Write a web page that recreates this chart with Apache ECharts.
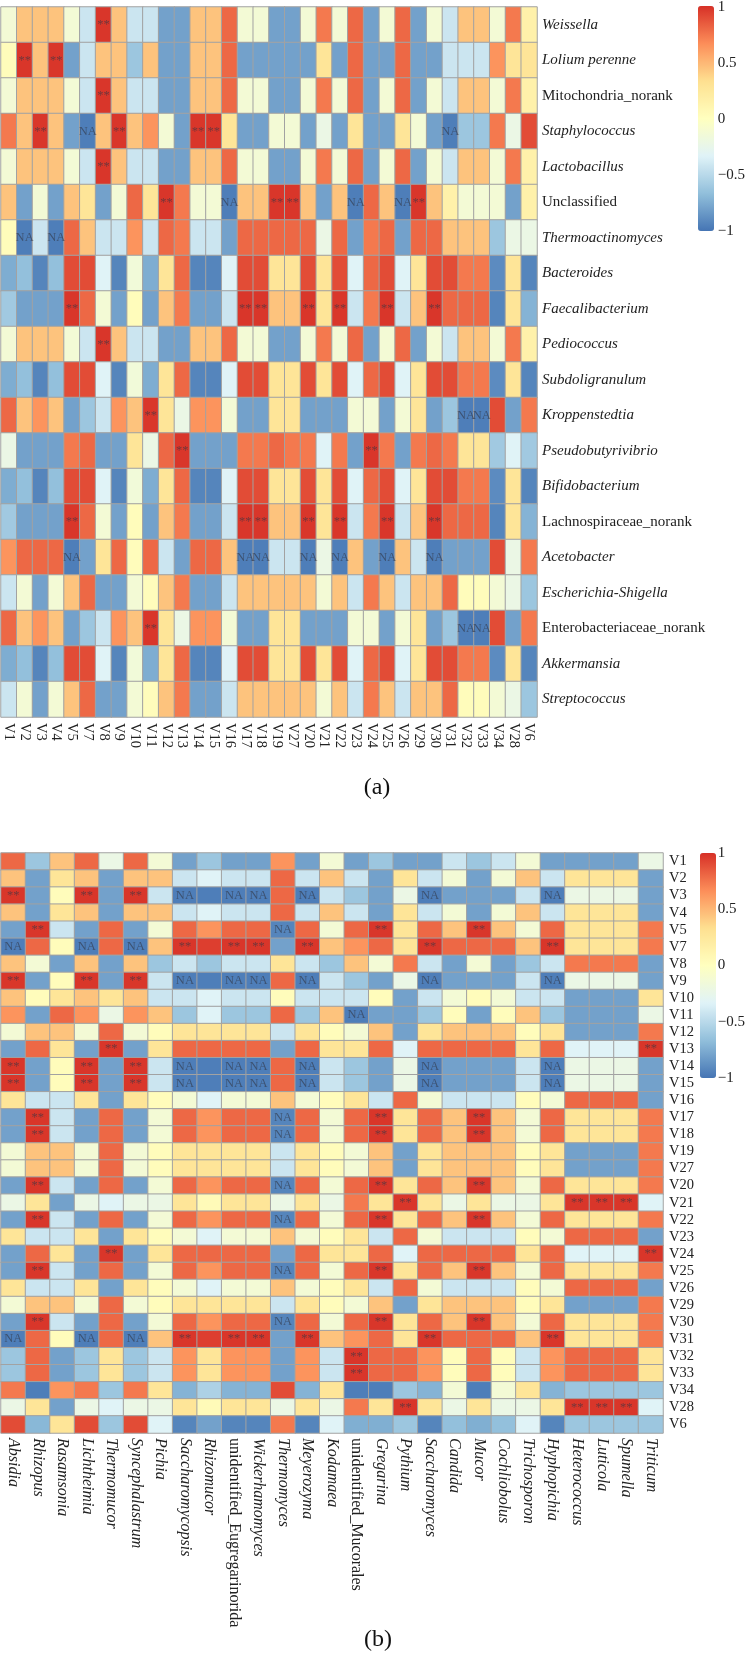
<!DOCTYPE html>
<html>
<head>
<meta charset="utf-8">
<style>html,body{margin:0;padding:0;background:#fff}#chart{width:748px;height:1654px}</style>
<script src="https://cdn.jsdelivr.net/npm/echarts@6/dist/echarts.min.js"></script>
</head>
<body>
<div id="chart"></div>
<script>
// ---------- Panel (a) ----------
const genera = ["Weissella","Lolium perenne","Mitochondria_norank","Staphylococcus","Lactobacillus","Unclassified","Thermoactinomyces","Bacteroides","Faecalibacterium","Pediococcus","Subdoligranulum","Kroppenstedtia","Pseudobutyrivibrio","Bifidobacterium","Lachnospiraceae_norank","Acetobacter","Escherichia-Shigella","Enterobacteriaceae_norank","Akkermansia","Streptococcus"];
const uprightGenera = ["Mitochondria_norank","Unclassified","Lachnospiraceae_norank","Enterobacteriaceae_norank"];
const samplesA = ["V1","V2","V3","V4","V5","V7","V8","V9","V10","V11","V12","V13","V14","V15","V16","V17","V18","V19","V27","V20","V21","V22","V23","V24","V25","V26","V29","V30","V31","V32","V33","V34","V28","V6"];

const weissella = [-.13,.45,.45,.45,-.13,-.42,.98,.45,-.42,-.42,-.8,-.8,.45,.45,.8,-.13,-.13,-.8,-.8,-.13,.74,-.13,.8,-.8,-.13,.8,-.8,-.13,-.42,.45,.45,-.13,.74,.15];
const lolium = [.03,.98,.45,.98,-.8,-.42,.45,.45,-.62,.45,-.8,-.8,.45,.45,.8,-.8,-.8,-.8,-.8,-.8,.28,-.8,.8,-.8,-.8,.8,-.8,-.8,-.42,-.42,-.42,.64,.28,.28];
const staphylococcus = [.74,.45,.98,.45,-.8,-.96,.45,.98,.45,.64,-.13,-.8,.98,.98,.28,-.8,-.8,-.13,-.13,-.8,-.22,-.8,.28,-.8,-.8,.28,-.13,-.8,-.96,-.62,-.62,.74,-.22,.9];
const unclassified = [.45,-.8,-.13,-.8,.45,.28,-.8,-.13,.8,.28,.98,.74,-.13,-.13,-.96,.45,.45,.98,.98,.45,-.8,.45,-.96,.8,.45,-.96,.98,.45,.15,-.13,-.13,-.13,-.8,.15];
const thermoactinomyces = [.03,-.96,-.42,-.96,.8,.45,-.42,-.42,.64,-.42,.8,.74,-.42,-.42,-.8,.8,.8,.8,.8,.8,-.22,.8,-.8,.74,.8,-.8,.8,.8,.45,.45,.45,-.62,-.22,-.22];
const bacteroides = [-.75,-.66,-.93,-.66,.9,.9,-.33,-.93,-.15,-.75,.28,.8,-.93,-.93,-.33,.9,.9,.28,.28,.9,.28,.9,-.33,.8,.9,-.33,.28,.9,.9,.74,.74,-.9,.28,-.93];
const faecalibacterium = [-.6,-.8,-.8,-.8,.98,.8,-.13,-.8,.03,-.8,.45,.74,-.8,-.8,-.42,.98,.98,.45,.45,.98,.28,.98,-.42,.74,.98,-.42,.45,.98,.8,.8,.8,-.93,.28,-.72];
const kroppenstedtia = [.8,.45,.64,.45,-.8,-.62,-.42,.64,.45,.98,.28,-.22,.64,.64,-.13,-.8,-.8,.28,.28,-.8,-.8,-.8,-.13,-.13,-.8,-.13,.28,-.8,-.62,-.96,-.96,.9,-.8,.74];
const pseudobutyrivibrio = [-.22,-.8,-.8,-.8,.74,.8,-.8,-.8,.28,-.22,.8,.98,-.8,-.8,-.8,.74,.74,.8,.74,.74,-.33,.74,-.8,.98,.74,-.8,.74,.8,.74,.28,.28,-.6,-.33,-.6];
const acetobacter = [.64,.8,.8,.8,-.96,-.8,.28,.8,.03,.8,-.42,-.8,.8,.8,.45,-.96,-.96,-.42,-.42,-.96,-.22,-.96,.45,-.8,-.96,.45,-.42,-.96,-.8,-.8,-.8,.9,-.22,.74];
const escherichia = [-.42,-.13,-.8,-.13,.45,.8,-.8,-.8,-.13,.03,.45,.74,-.8,-.8,-.42,.45,.45,.45,.45,.45,-.13,.45,-.42,.74,.45,-.42,.45,.45,.8,.03,.03,-.13,-.22,-.62];

const valuesA = [weissella,lolium,weissella,staphylococcus,weissella,unclassified,thermoactinomyces,bacteroides,faecalibacterium,weissella,bacteroides,kroppenstedtia,pseudobutyrivibrio,bacteroides,faecalibacterium,acetobacter,escherichia,kroppenstedtia,bacteroides,escherichia];
// 1-based column numbers per row
const starsA = [[7],[2,4],[7],[3,8,13,14],[7],[11,18,19,27],[],[],[5,16,17,20,22,25,28],[7],[],[10],[12,24],[],[5,16,17,20,22,25,28],[],[],[10],[],[]];
const naA = [[],[],[],[6,29],[],[15,23,26],[2,4],[],[],[],[],[30,31],[],[],[],[5,16,17,20,22,25,28],[],[30,31],[],[]];

// ---------- Panel (b) ----------
const fungi = ["Absidia","Rhizopus","Rasamsonia","Lichtheimia","Thermomucor","Syncephalastrum","Pichia","Saccharomycopsis","Rhizomucor","unidentified_Eugregarinorida","Wickerhamomyces","Thermomyces","Meyerozyma","Kodamaea","unidentified_Mucorales","Gregarina","Pythium","Saccharomyces","Candida","Mucor","Cochliobolus","Trichosporon","Hyphopichia","Heterococcus","Luticola","Spumella","Triticum"];
const uprightFungi = ["unidentified_Eugregarinorida","unidentified_Mucorales"];
const samplesB = ["V1","V2","V3","V4","V5","V7","V8","V9","V10","V11","V12","V13","V14","V15","V16","V17","V18","V19","V27","V20","V21","V22","V23","V24","V25","V26","V29","V30","V31","V32","V33","V34","V28","V6"];

const v1 = [.8,-.62,.45,.8,-.22,.8,-.13,-.8,-.62,-.8,-.8,.64,-.8,-.13,-.8,-.62,-.8,-.8,-.42,-.62,-.42,-.13,-.8,-.8,-.8,-.8,-.22];
const v2 = [.45,-.8,.28,.45,-.8,.45,.45,-.42,-.33,-.42,-.42,.8,-.42,.45,-.42,-.8,.28,-.42,-.13,-.8,-.13,.45,-.42,.28,.28,.28,-.8];
const v3 = [.98,-.8,.03,.98,-.8,.98,-.42,-.96,-.96,-.96,-.96,.8,-.96,-.42,-.62,-.8,-.22,-.96,-.8,-.8,-.8,-.42,-.96,-.22,-.22,-.22,-.8];
const v5 = [-.8,.98,-.42,-.8,.8,-.8,-.13,.8,.64,.8,.8,-.93,.8,-.13,.8,.98,.28,.8,.45,.98,.45,-.13,.8,.28,.28,.28,.74];
const v7 = [-.96,.8,.03,-.96,.8,-.96,.45,.98,.95,.98,.98,-.8,.98,.45,.64,.8,.28,.98,.8,.8,.8,.45,.98,.28,.28,.28,.74];
const v8 = [.45,-.13,-.8,.45,-.8,.45,-.62,-.42,-.62,-.42,-.42,.28,-.42,-.62,.45,-.13,.74,-.42,-.8,-.13,-.8,-.62,-.42,.74,.74,.74,-.8];
const v10 = [.45,.03,.28,.45,.28,.45,-.42,-.42,-.33,-.42,-.42,.03,-.42,-.42,-.42,.03,-.8,-.42,-.13,.03,-.13,-.42,-.42,-.8,-.8,-.8,.28];
const v11 = [.64,-.8,.8,.64,-.22,.64,.45,-.62,-.33,-.62,-.62,.8,-.62,.45,-.96,-.8,-.8,-.62,.03,-.8,.03,.45,-.62,-.8,-.8,-.8,-.22];
const v12 = [-.13,.45,.45,-.13,.8,-.13,.03,.28,.28,.28,.28,-.42,.28,.03,-.13,.45,-.8,.28,.45,.45,.45,.03,.28,-.8,-.8,-.8,.74];
const v13 = [-.8,.8,.28,-.8,.98,-.8,.28,.8,.8,.8,.8,-.8,.8,.28,.28,.8,-.33,.8,.8,.8,.8,.28,.8,-.33,-.33,-.33,.98];
const v16 = [.28,-.42,-.42,.28,-.8,.28,.03,-.13,-.33,-.13,-.13,.45,-.13,.03,.28,-.42,.8,-.13,-.42,-.42,-.42,.03,-.13,.8,.8,.8,-.8];
const v21 = [-.22,.28,-.8,-.22,-.33,-.22,-.22,.28,.05,.28,.28,-.22,.28,-.22,.74,.28,.98,.28,-.22,.28,-.22,-.22,.28,.98,.98,.98,-.33];
const v32 = [-.62,.8,-.8,-.62,.28,-.62,-.42,.64,.28,.64,.64,-.8,.64,-.42,.98,.8,.8,.64,.03,.8,.03,-.42,.64,.8,.8,.8,.28];
const v34 = [.74,-.96,.64,.74,-.62,.74,.28,-.72,-.55,-.72,-.72,.9,-.72,.28,-.96,-.96,-.62,-.72,-.13,-.96,-.13,.28,-.72,-.62,-.62,-.62,-.62];
const v6 = [.9,-.7,.28,.9,-.62,.9,-.33,-.93,-.8,-.93,-.93,.74,-.93,-.33,-.74,-.74,-.62,-.93,-.66,-.74,-.66,-.33,-.93,-.62,-.62,-.62,-.62];

const valuesB = [v1,v2,v3,v2,v5,v7,v8,v3,v10,v11,v12,v13,v3,v3,v16,v5,v5,v12,v12,v5,v21,v5,v16,v13,v5,v16,v12,v5,v7,v32,v32,v34,v21,v6];
const s3 = [1,4,6], n3 = [8,10,11,13,18,23], s5 = [2,16,20], n5 = [12], s13 = [5,27], s21 = [17,24,25,26], s32 = [15], n11 = [15];
const starsB = [[],[],s3,[],s5,n3,[],s3,[],[],[],s13,s3,s3,[],s5,s5,[],[],s5,s21,s5,[],s13,s5,[],[],s5,n3,s32,s32,[],s21,[]];
const naB = [[],[],n3,[],n5,s3,[],n3,[],n11,[],[],n3,n3,[],n5,n5,[],[],n5,[],n5,[],[],n5,[],[],n5,s3,[],[],[],[],[]];

const scaleColors = ["#4575B4","#91BFDB","#E0F3F8","#FFFFBF","#FEE090","#FC8D59","#D73027"];
const scaleTicks = [-1,-0.5,0,0.5,1];

// ---------- build ----------
const serif = '"Liberation Serif","Times New Roman",serif';
function cells(values, stars, na) {
  const out = [];
  values.forEach((row, y) => row.forEach((v, x) => {
    const c = x + 1;
    out.push([x, y, v, stars[y].includes(c) ? '**' : na[y].includes(c) ? 'NA' : '']);
  }));
  return out;
}
function catLabel(size, upright) {
  return {
    interval: 0, margin: 5,
    formatter: v => (upright.includes(v) ? '{n|' : '{i|') + v + '}',
    rich: {
      i: {fontFamily: serif, fontStyle: 'italic', fontSize: size, color: '#222'},
      n: {fontFamily: serif, fontSize: size, color: '#222'}
    }
  };
}
function heat(name, xi, data) {
  return {
    name, type: 'heatmap', xAxisIndex: xi, yAxisIndex: xi, data, progressive: 0, animation: false,
    encode: {x: 0, y: 1, value: 2},
    itemStyle: {borderColor: '#A2A2A2', borderWidth: 1},
    emphasis: {disabled: true},
    label: {show: true, formatter: p => p.data[3], fontFamily: serif, fontSize: 12.5, color: 'rgba(50,55,70,0.62)'}
  };
}
const hiddenAxis = gi => ({gridIndex: gi, type: 'value', show: false, min: 0, max: 1});
const tickAxis = gi => ({
  gridIndex: gi, type: 'value', min: scaleTicks[0], max: scaleTicks[4], interval: 0.5, position: 'right',
  axisLine: {show: false}, axisTick: {show: false}, splitLine: {show: false},
  axisLabel: {margin: 5, fontFamily: serif, fontSize: 15, color: '#222',
    formatter: v => String(v).replace('-', '\u2212')}
});
const scaleMap = (si, left, top) => ({
  type: 'continuous', seriesIndex: si, min: -1, max: 1, dimension: 2, calculable: false,
  show: true, left, top, padding: 0, itemWidth: 16, itemHeight: 225, text: null, showLabel: false,
  inRange: {color: scaleColors}, hoverLink: false, realtime: false
});

const option = {
  animation: false,
  backgroundColor: '#fff',
  title: [
    {text: '(a)', left: 372, top: 771, textAlign: 'center', textStyle: {fontFamily: serif, fontWeight: 'normal', fontSize: 24, color: '#111'}},
    {text: '(b)', left: 373, top: 1623, textAlign: 'center', textStyle: {fontFamily: serif, fontWeight: 'normal', fontSize: 24, color: '#111'}}
  ],
  grid: [
    {left: 1, top: 7, width: 536, height: 710},
    {left: 1, top: 853, width: 662, height: 580},
    {left: 698, top: 6, width: 16, height: 225},
    {left: 700, top: 853, width: 15, height: 225}
  ],
  xAxis: [
    {gridIndex: 0, type: 'category', data: samplesA, position: 'bottom', axisLine: {show: false}, axisTick: {show: false}, splitLine: {show: false}, splitArea: {show: false},
      axisLabel: {interval: 0, rotate: -90, margin: 6, fontFamily: serif, fontSize: 14.5, color: '#222'}},
    {gridIndex: 1, type: 'category', data: fungi, position: 'bottom', axisLine: {show: false}, axisTick: {show: false}, splitLine: {show: false}, splitArea: {show: false},
      axisLabel: Object.assign(catLabel(16, uprightFungi), {rotate: -90, margin: 5})},
    hiddenAxis(2), hiddenAxis(3)
  ],
  yAxis: [
    {gridIndex: 0, type: 'category', data: genera, inverse: true, position: 'right', axisLine: {show: false}, axisTick: {show: false}, splitLine: {show: false}, splitArea: {show: false},
      axisLabel: catLabel(15, uprightGenera)},
    {gridIndex: 1, type: 'category', data: samplesB, inverse: true, position: 'right', axisLine: {show: false}, axisTick: {show: false}, splitLine: {show: false}, splitArea: {show: false},
      axisLabel: {interval: 0, margin: 6, fontFamily: serif, fontSize: 14.5, color: '#222'}},
    tickAxis(2), tickAxis(3)
  ],
  visualMap: [scaleMap(0, 698, 6), scaleMap(1, 700, 853)],
  series: [
    heat('a', 0, cells(valuesA, starsA, naA)),
    heat('b', 1, cells(valuesB, starsB, naB))
  ]
};
const chart = echarts.init(document.getElementById('chart'), null, {renderer: 'canvas'});
chart.setOption(option);
</script>
</body>
</html>
